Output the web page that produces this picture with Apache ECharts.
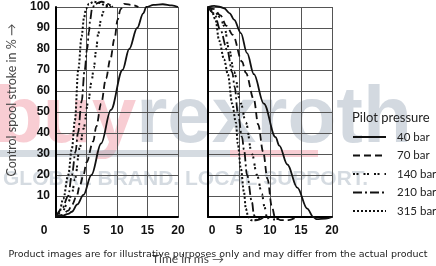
<!DOCTYPE html>
<html><head><meta charset="utf-8">
<script src="https://cdn.jsdelivr.net/npm/echarts@6/dist/echarts.min.js"></script>
<style>html,body{margin:0;padding:0;background:#fff}#c{width:436px;height:266px}</style>
</head><body><div id="c"></div>
<script>
// Tick labels
const xTicks = [0, 5, 10, 15, 20];
const yTicks = [0, 10, 20, 30, 40, 50, 60, 70, 80, 90, 100];
const seriesNames = ['40 bar', '70 bar', '140 bar', '210 bar', '315 bar'];
// Opening (left chart): [time ms, stroke %]
const open40 = [[0,0],[1,0.5],[2,1.5],[2.6,2.5],[3.5,6],[4.5,10.5],[5.8,20],[7.4,35],[9,51],[10.9,70],[12,80],[13.3,90],[14.3,97],[14.8,100],[16,101],[17.5,101.3],[19,100.8],[20,100]];
const open70 = [[0,0],[1,1],[2,3],[2.6,5.7],[3.4,10],[3.9,15],[4.5,20],[5,26],[6.1,36],[6.6,43],[7.4,54],[8.2,66],[8.9,75],[9.6,85],[10.1,94],[10.6,99],[11.2,101.5],[12.5,101],[13.5,100]];
const open140 = [[0,0],[1,2.5],[2,7],[2.6,11],[3.1,18],[3.9,33],[4.5,42],[5.3,55],[5.8,64],[6.2,71],[6.6,80],[6.9,87],[7.4,94],[7.7,97.5],[8.1,100],[8.7,101],[9.5,100]];
const open210 = [[0,0],[1,4],[2,10],[2.6,20],[3.2,31],[3.6,40],[4.2,55],[4.7,70],[5.1,80],[5.4,88],[5.6,94],[5.9,99],[6.4,101.5],[7.5,102.5],[8.5,101.5],[9.3,100]];
const open315 = [[0,0],[0.5,2],[1.2,8.7],[2,20],[2.6,32.5],[3.1,46],[3.65,70],[4.2,86],[4.6,95],[4.9,99],[5.4,101.5],[6.2,102.5],[7,102],[8,101],[9,100]];
// Closing (right chart)
const close40 = [[0,100],[1,100.5],[2,100],[2.6,99.4],[3.5,97],[4.2,94],[5.3,87.6],[6.3,78],[7.4,68],[9,54],[10.9,38],[11.5,34],[12.8,25],[14.4,14],[16,4],[17,0],[17.5,-1],[19,-0.8],[20,0]];
const close70 = [[0,100],[1,99],[2,96],[3,91],[4,86.7],[5.5,74],[6.1,68.6],[7.4,56],[8.1,44],[8.9,31],[9.6,18],[10.3,5],[10.8,0],[11.7,-1.5],[13,-1.5],[14,-0.5]];
const close140 = [[0,100],[1,98],[2,95],[2.6,91],[3.4,80],[4.2,69],[5.3,54],[6.1,45],[7.1,30],[7.9,20],[8.7,11],[9.1,5],[9.5,0],[10,-1.5],[11,-1],[12,0]];
const close210 = [[0,100],[1,97],[2,89],[3.1,79.5],[3.9,69],[4.3,62],[4.8,50],[5.5,38],[5.8,32],[6.3,20],[7.1,7],[7.4,1],[7.8,-1.5],[8.5,-1],[9,0]];
const close315 = [[0,100],[0.6,98],[1.2,94],[1.8,84],[2.6,75],[3.2,68],[3.9,54],[4.5,45],[4.8,35],[5.3,23],[5.8,12],[6.1,4],[6.5,0],[7,-1.5],[7.8,-1.5],[8.5,-0.5]];

const openData = [open40, open70, open140, open210, open315];
const closeData = [close40, close70, close140, close210, close315];
const styles = [
  {type: 'solid', width: 1.8},
  {type: [7, 4], width: 1.8},
  {type: [2, 1.5, 2, 5], width: 2},
  {type: [9, 3, 2, 3], width: 1.8},
  {type: [2, 2], width: 2}
];

const labFont = {fontFamily: 'Liberation Sans', fontWeight: 'bold', fontSize: 12, color: '#111'};

function xAxisFor(idx, zeroPad) {
  return {
    gridIndex: idx, type: 'value', min: xTicks[0], max: xTicks[xTicks.length - 1], interval: 5,
    axisLine: {onZero: false, lineStyle: {color: '#000', width: 2}},
    axisTick: {show: false},
    splitLine: {show: true, lineStyle: {color: '#555', width: 1}},
    axisLabel: Object.assign({}, labFont, {
      margin: 8,
      formatter: v => v === 0 ? '{z|0}' : String(v),
      rich: {z: Object.assign({}, labFont, {padding: zeroPad})}
    })
  };
}
function yAxisFor(idx, showLabels) {
  return {
    gridIndex: idx, type: 'value', min: yTicks[0], max: yTicks[yTicks.length - 1], interval: 10,
    axisLine: {show: true, lineStyle: {color: '#000', width: 2}},
    axisTick: {show: false},
    splitLine: {show: true, lineStyle: {color: '#555', width: 1}},
    axisLabel: Object.assign({}, labFont, {show: showLabels, margin: 6, formatter: v => v === 0 ? '' : String(v)})
  };
}

const series = [];
seriesNames.forEach((n, i) => {
  [0, 1].forEach(g => {
    series.push({
      name: n, type: 'line', xAxisIndex: g, yAxisIndex: g,
      data: g === 0 ? openData[i] : closeData[i],
      symbol: 'none', smooth: 0.35, smoothMonotone: 'x', clip: false,
      lineStyle: Object.assign({color: '#111', cap: 'butt'}, styles[i]),
      itemStyle: {color: '#111'}, z: 5
    });
  });
});

const chart = echarts.init(document.getElementById('c'), null, {renderer: 'canvas'});
chart.setOption({
  animation: false,
  backgroundColor: '#fff',
  grid: [
    {left: 56, top: 7, width: 122, height: 210},
    {left: 208, top: 7, width: 124, height: 210}
  ],
  xAxis: [xAxisFor(0, [0, 24, 0, 0]), xAxisFor(1, [0, 0, 0, 8])],
  yAxis: [yAxisFor(0, true), yAxisFor(1, false)],
  legend: {
    orient: 'vertical', left: 352, top: 131, padding: 0, itemWidth: 33, itemHeight: 14, itemGap: 6.5,
    data: seriesNames, selectedMode: false,
    itemStyle: {color: 'rgba(0,0,0,0)', borderColor: 'rgba(0,0,0,0)', borderWidth: 0, opacity: 0},
    textStyle: {fontFamily: 'Lato', fontSize: 11.5, color: '#222', padding: [0, 0, 0, 6]}
  },
  graphic: [
    {type: 'text', z: -10, left: -6, top: 80, style: {
      rich: {a: {fill: 'rgba(232,90,110,0.3)', font: 'bold 80px "Liberation Sans"'},
             b: {fill: 'rgba(150,165,180,0.42)', font: 'bold 80px "Liberation Sans"'}},
      text: '{a|buy}{b|rexroth}'}},
    {type: 'rect', z: -10, shape: {x: 0, y: 150, width: 230, height: 7}, style: {fill: 'rgba(150,165,180,0.4)'}},
    {type: 'rect', z: -10, shape: {x: 230, y: 150, width: 88, height: 7}, style: {fill: 'rgba(232,90,110,0.3)'}},
    {type: 'text', z: -10, x: 3, y: 190, style: {text: 'GLOBAL BRAND. LOCAL SUPPORT.', font: 'bold 21px "Liberation Sans"', fill: 'rgba(150,165,180,0.4)', textVerticalAlign: 'bottom'}},
    {type: 'text', x: 12, y: 100, rotation: Math.PI / 2, style: {text: 'Control spool stroke in % →', font: '12.5px Lato', fill: '#444', textAlign: 'center', textVerticalAlign: 'middle'}},
    {type: 'text', x: 352, y: 118, style: {text: 'Pilot pressure', font: '13px Lato', fill: '#222', textVerticalAlign: 'middle'}},
    {type: 'text', x: 188, y: 259, style: {text: 'Time in ms →', font: '12px Lato', fill: '#444', textAlign: 'center', textVerticalAlign: 'middle'}},
    {type: 'text', x: 218, y: 255, style: {text: 'Product images are for illustrative purposes only and may differ from the actual product', font: '9.5px "DejaVu Sans"', fill: '#222', textAlign: 'center', textVerticalAlign: 'middle'}}
  ],
  series: series
});
</script>
</body></html>
